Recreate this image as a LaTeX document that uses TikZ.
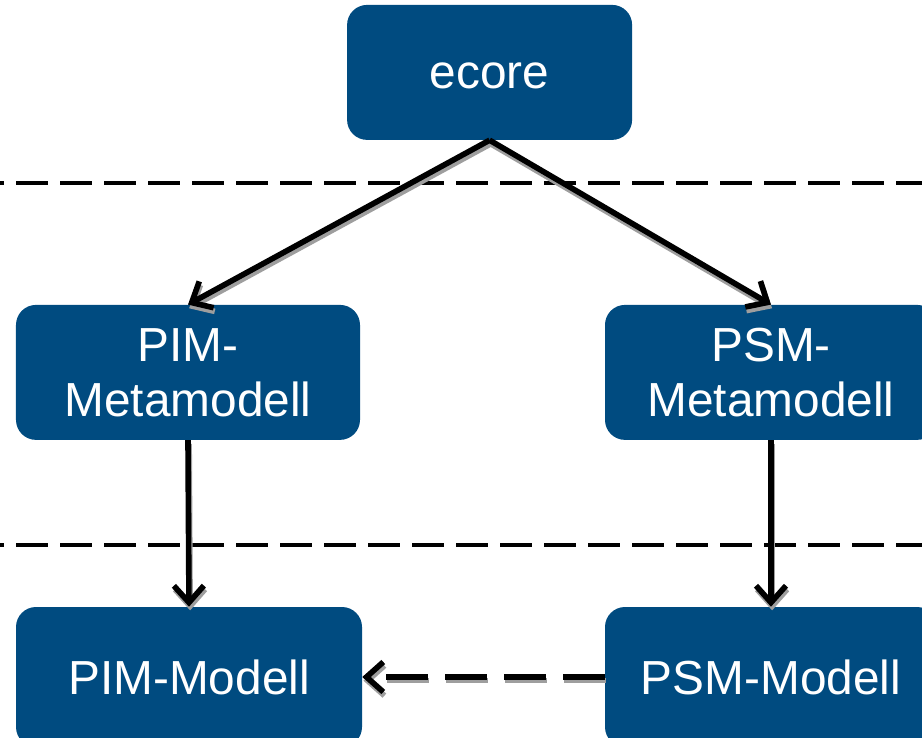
\documentclass[tikz,border=0pt]{standalone}
\usepackage{fontspec}
\setmainfont{Liberation Sans}
\definecolor{boxblue}{RGB}{0,75,128}
\usetikzlibrary{arrows.meta}
\begin{document}
\begin{tikzpicture}[
  model/.style={fill=boxblue, rounded corners=0.5cm, text=white, align=center,
    inner sep=0pt, font=\fontsize{34}{39}\selectfont},
  derive/.style={draw=black, line width=4pt, -{Straight Barb[length=0.42cm, width=0.75cm]}},
  deriveshadow/.style={draw=black!38, line width=4pt, -{Straight Barb[length=0.42cm, width=0.75cm]},
    transform canvas={shift={(0.8pt,-2.6pt)}}},
  layerline/.style={line width=2.8pt, dash pattern=on 0.8cm off 0.3cm, dash phase=0.7cm}
]
\useasboundingbox (0,0) rectangle (23.05,-18.45);
\node [model, minimum width=7.125cm, minimum height=3.375cm, text height=23pt] (ecore) at (12.24,-1.81) {ecore};
\node [model, minimum width=8.6cm, minimum height=3.375cm] (PIMmeta) at (4.7,-9.31) {PIM-\\Metamodell};
\node [model, minimum width=8.3cm, minimum height=3.375cm] (PSMmeta) at (19.275,-9.31) {PSM-\\Metamodell};
\node [model, minimum width=8.65cm, minimum height=3.5cm] (PIMmod) at (4.725,-16.925) {PIM-Modell};
\node [model, minimum width=8.3cm, minimum height=3.5cm] (PSMmod) at (19.275,-16.925) {PSM-Modell};
\coordinate (L1) at (0,-4.575);
\coordinate (R1) at (23.05,-4.575);
\coordinate (L2) at (0,-13.625);
\coordinate (R2) at (23.05,-13.625);
\draw [layerline] (L1) -- (R1);
\draw [layerline] (L2) -- (R2);

% Metamodels are derived from ecore, models from their metamodels
\foreach \s/\t in {ecore.south/PIMmeta.north, ecore.south/PSMmeta.north,
                   PIMmeta.south/PIMmod.north, PSMmeta.south/PSMmod.north}
{
  \draw [deriveshadow] (\s) -- (\t);
  \draw [derive] (\s) -- (\t);
}
\draw [deriveshadow, dash pattern=on 1.05cm off 0.425cm] (PSMmod.west) -- (PIMmod.east);
\draw [derive, dash pattern=on 1.05cm off 0.425cm] (PSMmod.west) -- (PIMmod.east);
\end{tikzpicture}
\end{document}
